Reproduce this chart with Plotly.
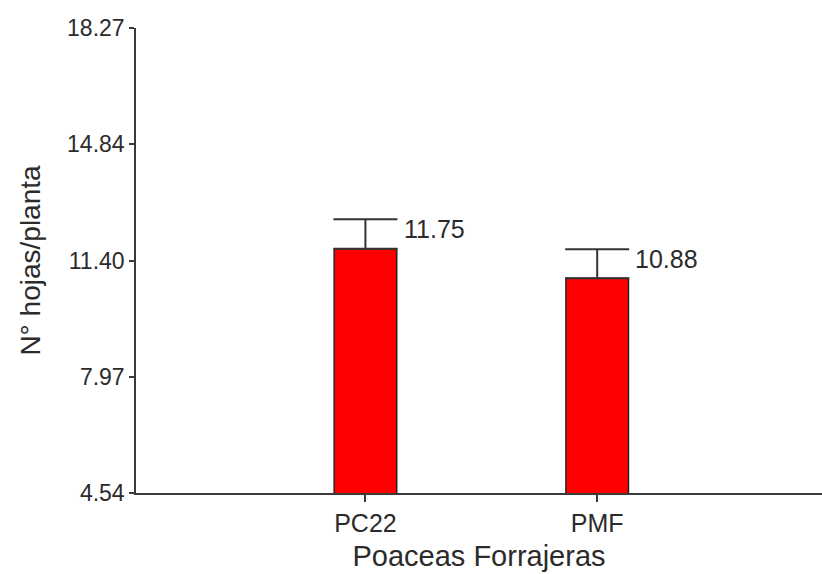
import plotly.graph_objects as go

# Leaf count per plant for two forage grasses
categories = ["PC22", "PMF"]
means = [11.75, 10.88]
errors = [0.87, 0.86]
y_ticks = [4.54, 7.97, 11.40, 14.84, 18.27]
y_tick_text = ["4.54", "7.97", "11.40", "14.84", "18.27"]

FONT = "Liberation Sans, Arial, sans-serif"
TEXT_COLOR = "#2b2b2b"
AXIS_COLOR = "#3a3a3a"
BAR_WIDTH = 0.27

fig = go.Figure()
fig.add_trace(go.Bar(
    x=list(range(len(categories))),
    y=means,
    width=BAR_WIDTH,
    marker=dict(color="#ff0000", line=dict(color="#222222", width=1.5)),
    error_y=dict(type="data", array=errors, arrayminus=[0] * len(errors),
                 symmetric=False, color="#333333", thickness=2, width=32),
    showlegend=False,
    hoverinfo="skip",
))

# Mean labels next to the error-bar caps
for i, (m, e) in enumerate(zip(means, errors)):
    fig.add_annotation(
        x=i + BAR_WIDTH / 2, y=m + e, text=f"{m:.2f}",
        xanchor="left", yanchor="middle", xshift=5, yshift=-10,
        showarrow=False, font=dict(family=FONT, size=25, color=TEXT_COLOR),
    )

fig.update_layout(
    width=822, height=574,
    margin=dict(l=136, r=0, t=28, b=81),
    paper_bgcolor="white", plot_bgcolor="white",
    font=dict(family=FONT, color=TEXT_COLOR),
    xaxis=dict(
        range=[-0.99, 1.97],
        tickvals=list(range(len(categories))), ticktext=categories,
        ticks="outside", ticklen=7, tickwidth=1.5, tickcolor=AXIS_COLOR,
        showline=True, linecolor=AXIS_COLOR, linewidth=1.5,
        showgrid=False, zeroline=False,
        tickfont=dict(family=FONT, size=25, color=TEXT_COLOR),
        title=dict(text="Poaceas Forrajeras", standoff=10,
                   font=dict(family=FONT, size=29, color=TEXT_COLOR)),
    ),
    yaxis=dict(
        range=[4.54, 18.27],
        tickvals=y_ticks, ticktext=y_tick_text,
        ticks="outside", ticklen=5, tickwidth=1.5, tickcolor=AXIS_COLOR,
        showline=True, linecolor=AXIS_COLOR, linewidth=1.5,
        showgrid=False, zeroline=False,
        tickfont=dict(family=FONT, size=23, color=TEXT_COLOR),
        title=dict(text="N° hojas/planta", standoff=18,
                   font=dict(family=FONT, size=28, color=TEXT_COLOR)),
    ),
)

fig.write_html("out.html")
